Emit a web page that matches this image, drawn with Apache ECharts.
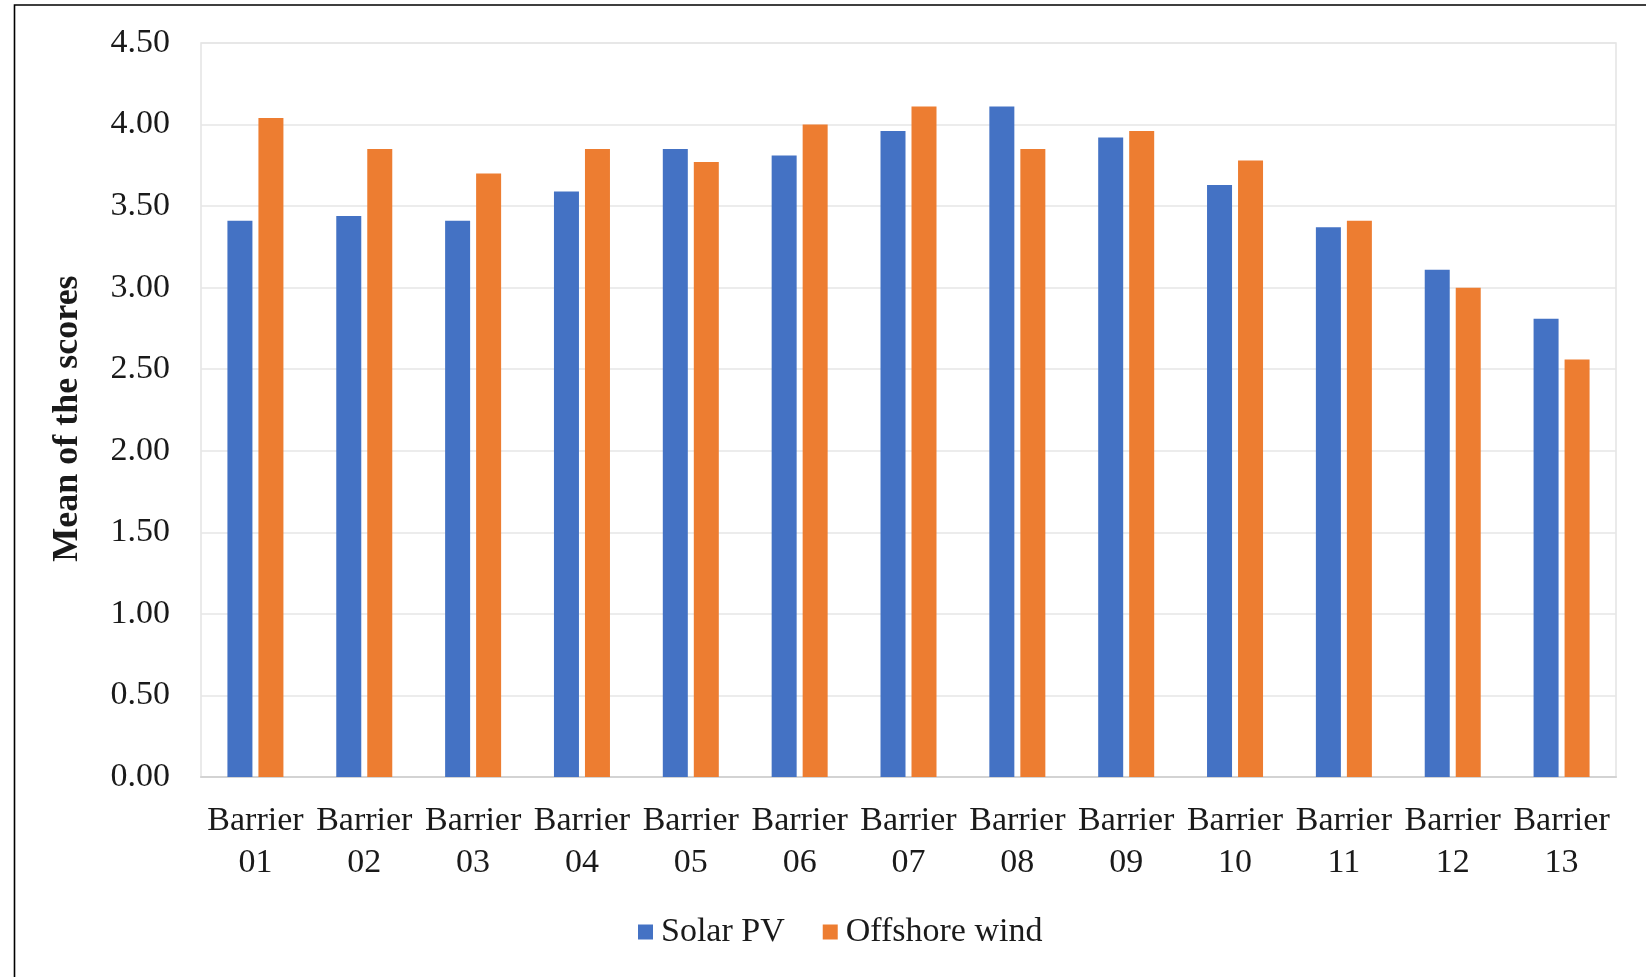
<!DOCTYPE html>
<html>
<head>
<meta charset="utf-8">
<title>Mean of the scores by barrier</title>
<script src="https://cdn.jsdelivr.net/npm/echarts@6/dist/echarts.min.js"></script>
<style>
  html, body { margin: 0; padding: 0; background: #ffffff; }
  #chart { width: 1646px; height: 977px; }
</style>
</head>
<body>
<div id="chart"></div>
<script>
// Barrier categories (two-line axis labels)
const categories = [
  'Barrier\n01', 'Barrier\n02', 'Barrier\n03', 'Barrier\n04', 'Barrier\n05',
  'Barrier\n06', 'Barrier\n07', 'Barrier\n08', 'Barrier\n09', 'Barrier\n10',
  'Barrier\n11', 'Barrier\n12', 'Barrier\n13'
];

// Mean score per barrier for each technology
const solarPV = [3.41, 3.44, 3.41, 3.59, 3.85, 3.81, 3.96, 4.11, 3.92, 3.63, 3.37, 3.11, 2.81];
const offshoreWind = [4.04, 3.85, 3.70, 3.85, 3.77, 4.00, 4.11, 3.85, 3.96, 3.78, 3.41, 3.00, 2.56];

// Value axis range
const yMin = 0;
const yMax = 4.5;
const yStep = 0.5;

const serif = '"Liberation Serif", "Times New Roman", serif';

const chart = echarts.init(document.getElementById('chart'), null, { renderer: 'canvas' });

chart.setOption({
  animation: false,
  backgroundColor: '#ffffff',
  textStyle: { fontFamily: serif },
  graphic: [
    {
      // outer frame of the figure
      type: 'rect',
      shape: { x: 14.5, y: 5, width: 1700, height: 1100 },
      style: { fill: 'none', stroke: '#000000', lineWidth: 1.6 },
      silent: true
    }
  ],
  grid: {
    left: 201,
    right: 30,
    top: 43,
    bottom: 200,
    show: true,
    borderColor: '#e3e3e3',
    borderWidth: 1.5,
    containLabel: false
  },
  legend: {
    left: 633,
    top: 910,
    itemWidth: 15,
    itemHeight: 15,
    itemGap: 38,
    icon: 'rect',
    textStyle: {
      fontFamily: serif,
      fontSize: 34,
      color: '#1a1a1a',
      padding: [0, 0, 0, 3]
    },
    data: ['Solar PV', 'Offshore wind']
  },
  xAxis: {
    type: 'category',
    data: categories,
    axisTick: { show: false },
    axisLine: { show: true, lineStyle: { color: '#d3d3d3', width: 2 } },
    axisLabel: {
      interval: 0,
      margin: 23,
      fontFamily: serif,
      fontSize: 34,
      lineHeight: 42,
      color: '#1a1a1a'
    },
    splitLine: { show: false }
  },
  yAxis: {
    type: 'value',
    min: yMin,
    max: yMax,
    interval: yStep,
    name: 'Mean of the scores',
    nameLocation: 'middle',
    nameGap: 115,
    nameRotate: 90,
    nameTextStyle: {
      fontFamily: serif,
      fontSize: 36,
      fontWeight: 'bold',
      color: '#1a1a1a',
      padding: [0, 17, 0, 0]
    },
    axisLine: { show: false },
    axisTick: { show: false },
    axisLabel: {
      margin: 31,
      fontFamily: serif,
      fontSize: 34,
      color: '#1a1a1a',
      formatter: v => v.toFixed(2)
    },
    splitLine: { show: true, lineStyle: { color: '#e6e6e6', width: 1.5 } }
  },
  series: [
    {
      name: 'Solar PV',
      type: 'bar',
      data: solarPV,
      barWidth: 25,
      barGap: '24%',
      itemStyle: { color: '#4472C4' }
    },
    {
      name: 'Offshore wind',
      type: 'bar',
      data: offshoreWind,
      barWidth: 25,
      barGap: '24%',
      itemStyle: { color: '#ED7D31' }
    }
  ]
});
</script>
</body>
</html>
